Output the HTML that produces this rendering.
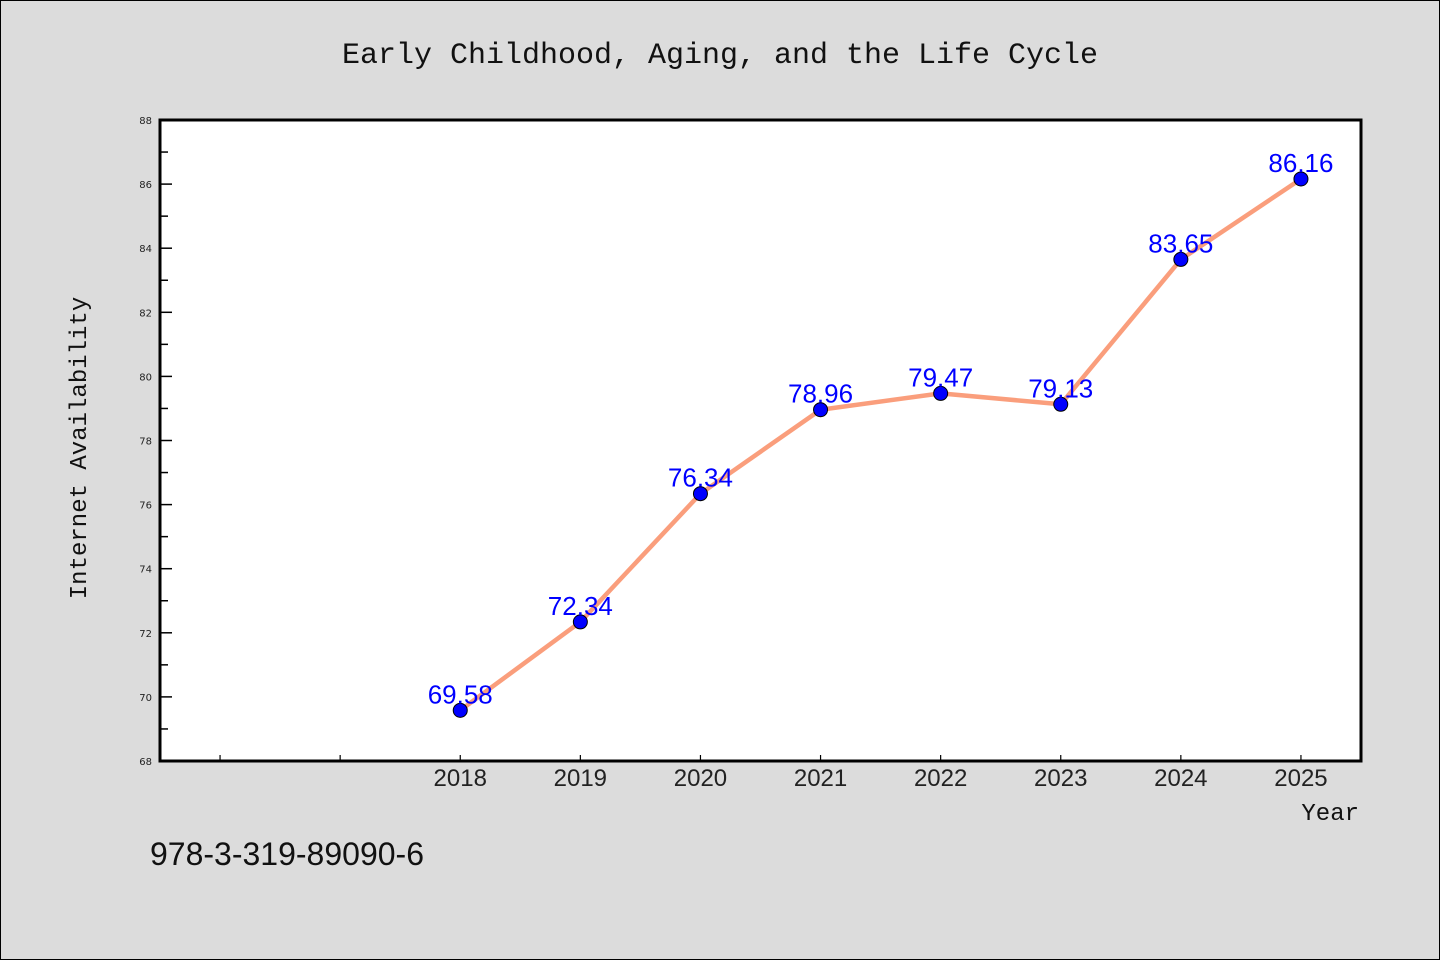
<!DOCTYPE html>
<html><head><meta charset="utf-8"><style>
html,body{margin:0;padding:0;background:#dcdcdc}
svg{display:block}
</style></head><body>
<svg width="1440" height="960" viewBox="0 0 1440 960" id="chart">
<rect x="0.5" y="0.5" width="1439" height="959" fill="#dcdcdc" stroke="#000"/>
<text x="720" y="63" text-anchor="middle" font-family="Liberation Mono, monospace" font-size="30" fill="#111">Early Childhood, Aging, and the Life Cycle</text>
<rect x="160" y="120" width="1201" height="641" fill="#fff"/>
<g id="ticks"></g>
<g id="series"></g>
<path d="M160 120 H1361 V761 H160 Z" fill="none" stroke="#000" stroke-width="3"/>
<text x="86" y="448" text-anchor="middle" transform="rotate(-90 86 448)" font-family="Liberation Mono, monospace" font-size="24" fill="#111">Internet Availability</text>
<text x="1359" y="820" text-anchor="end" font-family="Liberation Mono, monospace" font-size="24" fill="#111">Year</text>
<text x="150" y="865" font-family="Liberation Sans, sans-serif" font-size="32" fill="#111">978-3-319-89090-6</text>
</svg>
<script>
const years=[2018,2019,2020,2021,2022,2023,2024,2025];
const values=[69.58,72.34,76.34,78.96,79.47,79.13,83.65,86.16];
const yTickLabels=[68,70,72,74,76,78,80,82,84,86,88];
const xTickYears=[2016,2017,2018,2019,2020,2021,2022,2023,2024,2025];
const NS='http://www.w3.org/2000/svg';
const X0=160,X1=1361,Y0=761,Y1=120,xmin=2015.5,xmax=2025.5,ymin=68,ymax=88;
function xs(v){return X0+(v-xmin)/(xmax-xmin)*(X1-X0);}
function ys(v){return Y0-(v-ymin)/(ymax-ymin)*(Y0-Y1);}
function mk(tag,attrs,parent){const e=document.createElementNS(NS,tag);for(const k in attrs)e.setAttribute(k,attrs[k]);parent.appendChild(e);return e;}
const tg=document.getElementById('ticks');
for(let v=ymin;v<=ymax;v+=1){
  const major=(v%2===0);
  const l=mk('line',{x1:X0,x2:X0+(major?12:8),y1:ys(v),y2:ys(v),stroke:'#000','stroke-width':1.5},tg);
  
  
}
yTickLabels.forEach(v=>{
  const t=mk('text',{x:X0-8,y:ys(v)+4,'text-anchor':'end','font-family':'DejaVu Sans, sans-serif','font-size':10,fill:'#222'},tg);
  t.textContent=v;
  
  
});
xTickYears.forEach(v=>{
  const l=mk('line',{x1:xs(v),x2:xs(v),y1:Y0,y2:Y0-6,stroke:'#000','stroke-width':1.2},tg);
  
  
});
years.forEach(v=>{
  const t=mk('text',{x:xs(v),y:Y0+25,'text-anchor':'middle','font-family':'Liberation Sans, sans-serif','font-size':24,fill:'#222'},tg);
  t.textContent=v;
  
  
});
const sg=document.getElementById('series');
const pl=mk('polyline',{points:years.map((y,i)=>xs(y)+','+ys(values[i])).join(' '),fill:'none',stroke:'#fa9e7c','stroke-width':4.5,'stroke-linejoin':'round'},sg);


years.forEach((y,i)=>{
  const c=mk('circle',{cx:xs(y),cy:ys(values[i]),r:7,fill:'#0000ff',stroke:'#000','stroke-width':1},sg);
  
  
});
years.forEach((y,i)=>{
  const t=mk('text',{x:xs(y),y:ys(values[i])-7,'text-anchor':'middle','font-family':'Liberation Sans, sans-serif','font-size':26,fill:'#0000ff'},sg);
  t.textContent=values[i].toFixed(2);
  
  
});
</script>
</body></html>
